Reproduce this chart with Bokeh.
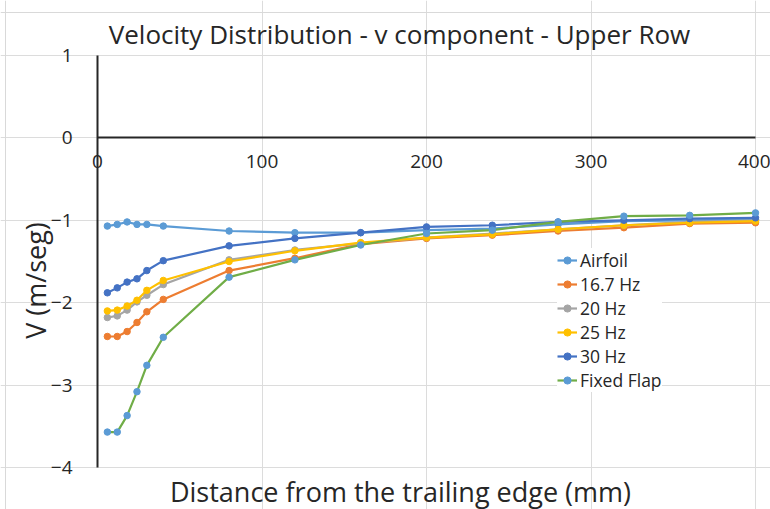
import math
from bokeh.plotting import figure
from bokeh.models import Range1d, FixedTicker, Legend, LegendItem, Label, Span
from bokeh.embed import file_html
from bokeh.resources import INLINE

# Data (distance from trailing edge in mm, v component in m/seg)
distance = [6, 12, 18, 24, 30, 40, 80, 120, 160, 200, 240, 280, 320, 360, 400]
airfoil = [-1.07, -1.05, -1.02, -1.05, -1.05, -1.07, -1.13, -1.15, -1.15, -1.12, -1.10, -1.05, -1.01, -1.00, -0.99]
hz16_7 = [-2.41, -2.41, -2.35, -2.24, -2.11, -1.96, -1.61, -1.46, -1.29, -1.22, -1.18, -1.13, -1.09, -1.04, -1.03]
hz20 = [-2.18, -2.16, -2.09, -1.99, -1.91, -1.78, -1.48, -1.36, -1.28, -1.21, -1.16, -1.11, -1.06, -1.02, -1.00]
hz25 = [-2.10, -2.09, -2.04, -1.97, -1.85, -1.73, -1.50, -1.37, -1.27, -1.21, -1.17, -1.11, -1.06, -1.03, -1.01]
hz30 = [-1.88, -1.82, -1.75, -1.71, -1.61, -1.49, -1.31, -1.22, -1.15, -1.08, -1.06, -1.02, -1.00, -0.98, -0.97]
fixed_flap = [-3.57, -3.57, -3.37, -3.08, -2.76, -2.42, -1.69, -1.48, -1.30, -1.16, -1.12, -1.02, -0.95, -0.94, -0.91]

series_names = ["Airfoil", "16.7 Hz", "20 Hz", "25 Hz", "30 Hz", "Fixed Flap"]
series_values = [airfoil, hz16_7, hz20, hz25, hz30, fixed_flap]
line_colors = ["#5B9BD5", "#ED7D31", "#A5A5A5", "#FFC000", "#4472C4", "#70AD47"]
marker_colors = ["#5B9BD5", "#ED7D31", "#A5A5A5", "#FFC000", "#4472C4", "#5B9BD5"]

x_ticks = [0, 100, 200, 300, 400]
y_ticks = [-4, -3, -2, -1, 0, 1]
x_min, x_max = 0, 400
y_min, y_max = -4, 1

title_text = "Velocity Distribution - v component - Upper Row"
x_label_text = "Distance from the trailing edge (mm)"
y_label_text = "V (m/seg)"

FONT = "Open Sans"
TXT = "#262626"

W, H = 770, 509
# pixel placement of the plotting region inside the canvas
PX_LEFT, PX_RIGHT, PX_TOP, PX_BOTTOM = 97, 755, 55, 467
sx = (PX_RIGHT - PX_LEFT) / (x_max - x_min)
sy = (PX_BOTTOM - PX_TOP) / (y_max - y_min)
xr = Range1d(x_min - PX_LEFT / sx, x_max + (W - PX_RIGHT) / sx)
yr = Range1d(y_min - (H - PX_BOTTOM) / sy, y_max + PX_TOP / sy)

def px_to_x(px):
    return x_min + (px - PX_LEFT) / sx

def py_to_y(py):
    return y_max - (py - PX_TOP) / sy

p = figure(width=W, height=H, output_backend="svg", toolbar_location=None,
           x_range=xr, y_range=yr,
           min_border_left=0, min_border_right=0, min_border_top=0, min_border_bottom=0)
p.background_fill_color = "white"
p.border_fill_color = "white"
p.outline_line_color = None

# chart-area border (light grey) at left and top
p.add_layout(Span(location=px_to_x(5), dimension="height", line_color="#D9D9D9", line_width=1))
p.add_layout(Span(location=py_to_y(12), dimension="width", line_color="#D9D9D9", line_width=1))

# grid
p.xgrid.ticker = FixedTicker(ticks=x_ticks[1:])
p.ygrid.ticker = FixedTicker(ticks=y_ticks)
p.xgrid.bounds = (y_min, y_max)
p.ygrid.bounds = (x_min, x_max)
p.xgrid.grid_line_color = "#DCDCDC"
p.ygrid.grid_line_color = "#DCDCDC"

# X axis placed at y = 0
xa = p.xaxis[0]
xa.fixed_location = 0
xa.bounds = (x_min, x_max)
xa.ticker = FixedTicker(ticks=x_ticks)
xa.axis_line_color = "#262626"
xa.axis_line_width = 2
xa.major_tick_line_color = None
xa.minor_tick_line_color = None
xa.major_label_text_font = FONT
xa.major_label_text_font_size = "19px"
xa.major_label_text_color = TXT
xa.major_label_standoff = 11

# Y axis placed at x = 0
ya = p.yaxis[0]
ya.fixed_location = 0
ya.bounds = (y_min, y_max)
ya.ticker = FixedTicker(ticks=y_ticks)
ya.axis_line_color = "#262626"
ya.axis_line_width = 2
ya.major_tick_line_color = None
ya.minor_tick_line_color = None
ya.major_label_text_font = FONT
ya.major_label_text_font_size = "19px"
ya.major_label_text_color = TXT
ya.major_label_standoff = 19

# title and axis labels
p.add_layout(Label(x=px_to_x(399), y=py_to_y(33), text=title_text,
                   text_align="center", text_baseline="middle",
                   text_font=FONT, text_font_size="26px", text_color=TXT))
p.add_layout(Label(x=px_to_x(400), y=py_to_y(491), text=x_label_text,
                   text_align="center", text_baseline="middle",
                   text_font=FONT, text_font_size="27px", text_color=TXT))
p.add_layout(Label(x=px_to_x(35), y=py_to_y(280), text=y_label_text, angle=math.pi / 2,
                   text_align="center", text_baseline="middle",
                   text_font=FONT, text_font_size="27px", text_color=TXT))

items = []
for name, vals, lc, mc in zip(series_names, series_values, line_colors, marker_colors):
    r1 = p.line(distance, vals, line_color=lc, line_width=2.2)
    r2 = p.scatter(distance, vals, size=6.5, fill_color=mc, line_color=mc)
    items.append(LegendItem(label=name, renderers=[r1, r2]))

legend = Legend(items=items, location=(557, 117))
legend.label_text_font = FONT
legend.label_text_font_size = "17.5px"
legend.label_text_color = TXT
legend.glyph_width = 20
legend.glyph_height = 18
legend.label_height = 18
legend.spacing = 0
legend.padding = 3
legend.margin = 0
legend.border_line_color = None
legend.background_fill_color = "white"
legend.background_fill_alpha = 1.0
legend.label_standoff = 3
p.add_layout(legend, "center")

open("out.html", "w").write(file_html(p, INLINE))
